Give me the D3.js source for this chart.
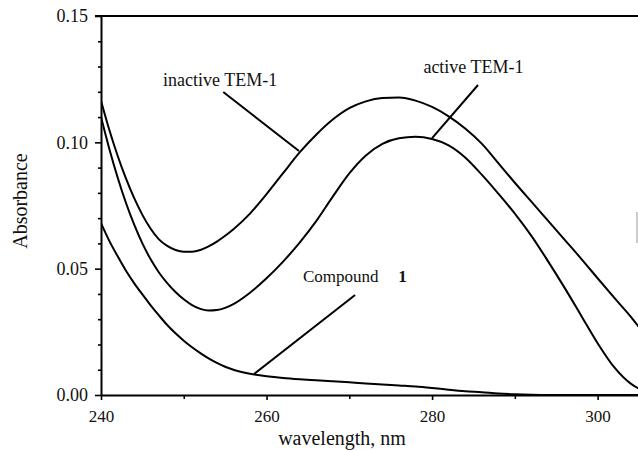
<!DOCTYPE html>
<html><head><meta charset="utf-8">
<script src="https://cdn.jsdelivr.net/npm/d3@7"></script>
<style>body{margin:0;background:#fff}svg{display:block}text{font-family:"Liberation Serif","DejaVu Serif","Times New Roman",serif}</style>
</head><body>
<svg id="c" width="638" height="450"></svg>
<script>
const wavelengths = [240,241,242,243,244,245,246,247,248,249,250,251,252,253,254,255,256,
  258,260,262,264,266,268,270,272,274,276,278,280,282,284,286,288,290,292,294,296,298,300,302,304,305];
const inactiveTEM = [0.1165,0.1050,0.0948,0.0858,0.0780,0.0713,0.0658,0.0616,0.0590,0.0574,0.0567,0.0567,0.0574,0.0588,0.0607,0.0630,0.0656,
  0.0718,0.0795,0.0878,0.0960,0.1030,0.1090,0.1135,0.1162,0.1175,0.1177,0.1165,0.1140,0.1103,0.1055,0.0995,0.0918,0.0840,0.0765,0.0690,0.0615,0.0540,0.0462,0.0385,0.0310,0.0268];
const activeTEM = [0.1100,0.0975,0.0862,0.0762,0.0675,0.0600,0.0537,0.0485,0.0443,0.0408,0.0379,0.0356,0.0341,0.0334,0.0336,0.0345,0.0360,
  0.0405,0.0462,0.0528,0.0603,0.0688,0.0785,0.0877,0.0948,0.0994,0.1016,0.1022,0.1013,0.0988,0.0940,0.0872,0.0797,0.0718,0.0630,0.0530,0.0425,0.0315,0.0205,0.0110,0.0045,0.0025];
const compound1 = [0.0680,0.0610,0.0550,0.0493,0.0443,0.0398,0.0355,0.0315,0.0277,0.0244,0.0215,0.0189,0.0166,0.0145,0.0127,0.0112,0.0100,
  0.0084,0.0074,0.0067,0.0062,0.0058,0.0054,0.0050,0.0046,0.0042,0.0038,0.0034,0.0028,0.0021,0.0015,0.0011,0.0006,0.0003,0.0001,0,0,0,0,0,0,0];
const xTicks = [240,260,280,300];
const xMinorTicks = [250,270,290];
const yTicks = [0.00,0.05,0.10,0.15];
const yMinorTicks = [0.01,0.02,0.03,0.04,0.06,0.07,0.08,0.09,0.11,0.12,0.13,0.14];
const labels = ["inactive TEM-1","active TEM-1","Compound"];

const svg = d3.select("#c");
const x = d3.scaleLinear().domain([240,305]).range([101,639]);
const y = d3.scaleLinear().domain([0,0.15]).range([395,16]);

svg.append("defs").append("clipPath").attr("id","clip")
  .append("rect").attr("x",101).attr("y",10).attr("width",540).attr("height",386);

// axes
const xAxis = svg.append("g").attr("transform","translate(0,395)")
  .call(d3.axisBottom(x).tickValues(xTicks).tickSize(5).tickSizeOuter(0).tickFormat(d3.format("d")));
svg.append("g").attr("transform","translate(0,395)")
  .call(d3.axisBottom(x).tickValues(xMinorTicks).tickSize(4).tickSizeOuter(0).tickFormat(""))
  .select(".domain").remove();
const yAxis = svg.append("g").attr("transform","translate(101,0)")
  .call(d3.axisLeft(y).tickValues(yTicks).tickSize(6).tickSizeOuter(0).tickFormat(d3.format(".2f")));
svg.append("g").attr("transform","translate(101,0)")
  .call(d3.axisLeft(y).tickValues(yMinorTicks).tickSize(3).tickSizeOuter(0).tickFormat(""))
  .select(".domain").remove();
svg.selectAll("g").attr("font-family",null);
svg.selectAll(".domain").attr("stroke","#000").attr("stroke-width",2);
svg.selectAll(".tick line").attr("stroke","#000").attr("stroke-width",1.6);
xAxis.selectAll(".tick text").attr("font-size",17).attr("fill","#111").attr("dy","1.1em");
yAxis.selectAll(".tick text").attr("font-size",18).attr("fill","#111").attr("x",-13);

// top border
svg.append("line").attr("x1",95).attr("x2",638)
  .attr("y1",y(0.15)).attr("y2",y(0.15)).attr("stroke","#000").attr("stroke-width",2.2);

// curves
const line = d3.line().x((d,i)=>x(wavelengths[i])).y(d=>y(d)).curve(d3.curveMonotoneX);
const g = svg.append("g").attr("clip-path","url(#clip)");
[inactiveTEM, activeTEM, compound1].forEach(s=>{
  g.append("path").attr("d",line(s)).attr("fill","none").attr("stroke","#000").attr("stroke-width",2);
});

// annotations (data coordinates)
const ann = [
  {text:labels[0], tx:254.4, ty:0.1223, anchor:"middle", size:18, l:[[254.77,0.1199],[263.92,0.0966]]},
  {text:labels[1], tx:285.0, ty:0.1274, anchor:"middle", size:18, l:[[285.55,0.1227],[280.0,0.1017]]},
  {text:labels[2], tx:264.4, ty:0.0447, anchor:"start", size:17, l:[[270.7,0.0396],[258.5,0.0083]]}
];
ann.forEach(a=>{
  svg.append("text").attr("x",x(a.tx)).attr("y",y(a.ty)).attr("text-anchor",a.anchor)
    .attr("font-size",a.size).attr("fill","#111").text(a.text);
  svg.append("line").attr("x1",x(a.l[0][0])).attr("y1",y(a.l[0][1]))
    .attr("x2",x(a.l[1][0])).attr("y2",y(a.l[1][1])).attr("stroke","#000").attr("stroke-width",2);
});
svg.append("text").attr("x",x(275.9)).attr("y",y(0.0447))
  .attr("font-size",17).attr("font-weight","bold").attr("fill","#111").text("1");

// axis titles
svg.append("text").attr("x",342).attr("y",445).attr("text-anchor","middle")
  .attr("font-size",20).attr("fill","#111").text("wavelength, nm");
svg.append("text").attr("transform","translate(27,201) rotate(-90)").attr("text-anchor","middle")
  .attr("font-size",20).attr("fill","#111").text("Absorbance");

// scan artifact at right edge
svg.append("line").attr("x1",637).attr("x2",637).attr("y1",212).attr("y2",243)
  .attr("stroke","#999").attr("stroke-width",1);
</script>
</body></html>
